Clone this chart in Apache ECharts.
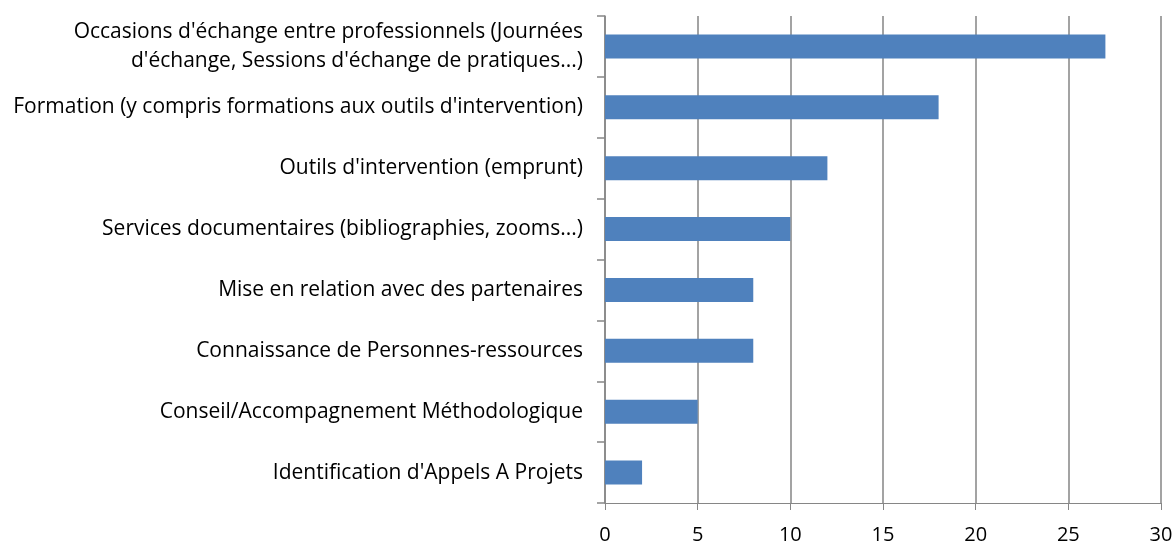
<!DOCTYPE html>
<html>
<head>
<meta charset="utf-8">
<script src="https://cdn.jsdelivr.net/npm/echarts@6/dist/echarts.min.js"></script>
<style>
  html, body { margin: 0; padding: 0; background: #fff; }
  #charts { width: 1176px; height: 545px; }
</style>
</head>
<body>
<div id="charts"></div>
<script>
var categories = [
    "Occasions d'échange entre professionnels (Journées\nd'échange, Sessions d'échange de pratiques...)",
    "Formation (y compris formations aux outils d'intervention)",
    "Outils d'intervention (emprunt)",
    "Services documentaires (bibliographies, zooms...)",
    "Mise en relation avec des partenaires",
    "Connaissance de Personnes-ressources",
    "Conseil/Accompagnement Méthodologique",
    "Identification d'Appels A Projets"
];
var values = [27, 18, 12, 10, 8, 8, 5, 2];
var xTicks = { min: 0, max: 30, interval: 5 };

var myChart = echarts.init(document.getElementById('charts'));

// axes gris, barres bleues
var option = {
    animation: false,
    textStyle: { fontFamily: 'Open Sans' },
    grid: { left: 605, right: 15, top: 16, bottom: 40 },
    xAxis: {
        type: 'value',
        min: xTicks.min,
        max: xTicks.max,
        interval: xTicks.interval,
        axisLine: { show: true, lineStyle: { color: '#868686', width: 1 } },
        axisTick: { show: true, length: 7, lineStyle: { color: '#868686' } },
        splitLine: { show: true, lineStyle: { color: '#858585', width: 1.5 } },
        axisLabel: { color: '#000', fontSize: 20, margin: 22 }
    },
    yAxis: {
        type: 'category',
        data: categories,
        inverse: true,
        axisLine: { show: true, lineStyle: { color: '#868686', width: 1.5 } },
        axisTick: { show: true, length: 8, alignWithLabel: false, lineStyle: { color: '#868686', width: 1.5 } },
        splitLine: { show: false },
        axisLabel: { color: '#000', fontSize: 21, margin: 22, lineHeight: 29, align: 'right' }
    },
    series: [
        {
            type: 'bar',
            data: values,
            barWidth: 24,
            itemStyle: { color: '#4f81bd' }
        }
    ]
};
myChart.setOption(option);
</script>
</body>
</html>
